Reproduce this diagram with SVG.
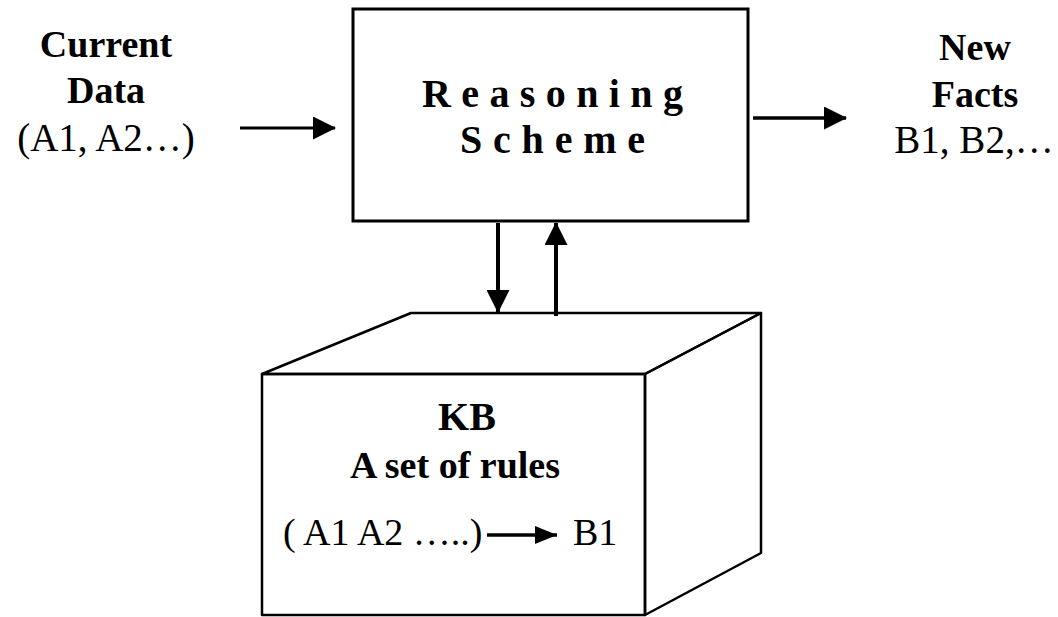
<svg xmlns="http://www.w3.org/2000/svg" width="1058" height="617" viewBox="0 0 1058 617">
  <style>
    .t { font-family: "Liberation Serif", "Times New Roman", serif; fill: #000; }
    .b { font-weight: bold; }
    .box { fill: #fff; stroke: #000; stroke-width: 3; }
    .edge { fill: none; stroke: #000; stroke-width: 2.5; stroke-linejoin: round; }
    .conn { fill: none; stroke: #000; }
  </style>
  <defs>
    <marker id="head" markerUnits="userSpaceOnUse" markerWidth="23" markerHeight="23" refX="22" refY="11.5" orient="auto">
      <path d="M0,0 L23,11.5 L0,23 Z" fill="#000"/>
    </marker>
    <marker id="headSmall" markerUnits="userSpaceOnUse" markerWidth="22" markerHeight="18" refX="22" refY="9" orient="auto">
      <path d="M0,0 L22,9 L0,18 Z" fill="#000"/>
    </marker>
  </defs>
  <rect width="1058" height="617" fill="#fff"/>

  <!-- input label -->
  <g id="current-data">
    <text class="t b" x="106" y="57" font-size="38" text-anchor="middle">Current</text>
    <text class="t b" x="106" y="103" font-size="38" text-anchor="middle">Data</text>
    <text class="t" x="106" y="151" font-size="39" text-anchor="middle">(A1, A2…)</text>
  </g>

  <!-- inference engine -->
  <g id="reasoning-scheme">
    <rect class="box" x="353" y="9" width="395" height="212"/>
    <text class="t b" x="422" y="107" font-size="40" letter-spacing="10.4">Reasoning</text>
    <text class="t b" x="460" y="153" font-size="40" letter-spacing="10.8">Scheme</text>
  </g>

  <!-- output label -->
  <g id="new-facts">
    <text class="t b" x="975" y="60" font-size="38" text-anchor="middle">New</text>
    <text class="t b" x="975" y="107" font-size="38" text-anchor="middle">Facts</text>
    <text class="t" x="974" y="153" font-size="39" text-anchor="middle">B1, B2,…</text>
  </g>

  <!-- knowledge base drawn as a box in perspective -->
  <g id="kb">
    <path class="edge" d="M262,374 L411,313 L761,313 L645,374 Z" fill="#fff"/>
    <path class="edge" d="M645,374 L761,313 L761,553 L645,615 Z" fill="#fff"/>
    <rect class="edge" x="262" y="374" width="383" height="241" fill="#fff"/>
    <text class="t b" x="467" y="430" font-size="40" text-anchor="middle">KB</text>
    <text class="t b" x="455" y="478" font-size="38" text-anchor="middle">A set of rules</text>
    <text class="t" x="283" y="545" font-size="38">( A1 A2 …..)</text>
    <line class="conn" x1="487" y1="535" x2="557" y2="535" stroke-width="3.5" marker-end="url(#headSmall)"/>
    <text class="t" x="573" y="545" font-size="38">B1</text>
  </g>

  <!-- connectors -->
  <g id="connectors">
    <line class="conn" x1="240" y1="128" x2="335" y2="128" stroke-width="3" marker-end="url(#head)"/>
    <line class="conn" x1="753" y1="118" x2="846" y2="118" stroke-width="3.5" marker-end="url(#head)"/>
    <line class="conn" x1="498" y1="223" x2="498" y2="312" stroke-width="4" marker-end="url(#head)"/>
    <line class="conn" x1="556" y1="316" x2="556" y2="223" stroke-width="4" marker-end="url(#head)"/>
  </g>
</svg>
